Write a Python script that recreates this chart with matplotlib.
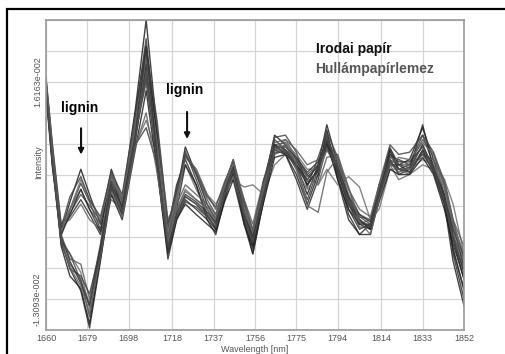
import matplotlib
matplotlib.use("Agg")
import matplotlib.pyplot as plt
from matplotlib.patches import Rectangle

plt.rcParams['font.family'] = ['Liberation Sans', 'DejaVu Sans']

# wavelength nodes [nm]
wl = [1660, 1663, 1667, 1671, 1676, 1680, 1685, 1690, 1695, 1701, 1706, 1711, 1716, 1720,
      1724, 1729, 1734, 1738, 1742, 1746, 1751, 1755, 1760, 1765, 1770, 1775, 1780, 1785,
      1789, 1794, 1799, 1804, 1809, 1813, 1818, 1822, 1827, 1833, 1838, 1843, 1847, 1852]

# spectra, intensity x 1e-3
# corrugated board (lignin peaks)
a1 = [16.4, 7.0, -4.0, 0.0, 4.4, 1.0, -3.0, 4.4, 0.3, 12.4, 24.5, 9.7, -5.0, 1.0, 7.4, 3.7, -0.3, -2.4, 2.3, 5.7, -1.0,
      -5.7, 2.3, 9.0, 7.7, 5.0, 1.0, 5.0, 10.4, 5.0, -0.3, -3.0, -3.0, 1.7, 7.3, 5.0, 5.7, 10.0, 5.7, 1.0, -5.0, -10.4]
a2 = [16.0, 6.0, -4.5, -1.0, 2.5, 0.0, -3.7, 3.0, 0.0, 11.5, 22.0, 8.4, -5.7, 0.3, 6.8, 3.0, -1.0, -3.0, 1.7, 5.0, -1.7,
      -6.4, 1.7, 8.4, 7.0, 4.4, 0.3, 4.4, 9.0, 4.4, -1.0, -3.7, -3.0, 1.0, 6.4, 4.4, 5.0, 9.0, 5.0, 0.3, -6.4, -12.0]
a3 = [15.5, 5.5, -3.5, -1.5, 1.0, -0.5, -2.5, 2.3, -0.5, 10.4, 20.0, 8.0, -4.4, 1.7, 6.4, 3.7, 0.3, -1.7, 2.3, 4.4, -0.3,
      -5.0, 2.3, 7.7, 8.0, 5.7, 2.3, 4.4, 8.4, 5.7, 0.3, -2.4, -3.7, 1.7, 6.8, 5.0, 5.0, 8.4, 6.4, 2.3, -4.4, -9.7]
a4 = [15.1, 5.0, -3.7, -2.0, 0.3, -1.7, -4.4, 1.0, -1.7, 9.0, 17.0, 7.0, -3.7, 2.3, 5.7, 2.3, -1.7, -3.7, 1.0, 3.7, -2.4,
      -4.4, 3.0, 7.0, 6.4, 3.0, -1.0, 3.0, 7.7, 3.7, -1.7, -4.4, -3.0, 0.3, 5.7, 3.7, 4.4, 7.7, 4.4, 1.0, -7.0, -13.1]
a5 = [14.5, 4.4, -3.0, -2.4, -0.3, -2.4, -3.7, 0.3, -1.0, 7.7, 11.0, 6.4, -3.0, 1.0, 5.0, 1.7, -1.0, -2.4, 1.7, 3.0, -1.0,
      -3.7, 2.3, 6.4, 7.0, 4.4, 1.7, 3.7, 7.0, 4.4, -0.3, -3.0, -2.4, 1.0, 5.0, 3.0, 3.7, 7.0, 5.0, 2.0, -3.7, -8.4]
a6 = [16.8, 7.7, -3.0, -1.0, 1.7, -1.0, -3.0, 2.0, -0.3, 10.0, 19.0, 10.0, -2.4, 0.0, 6.0, 4.4, 1.0, -1.0, 1.0, 4.0, 0.3,
      -3.0, 3.0, 8.0, 8.4, 6.0, 3.7, 2.3, 6.0, 6.4, 1.7, -2.0, -2.4, 2.3, 6.0, 5.7, 5.0, 6.4, 5.7, 3.0, -2.4, -7.7]
a7 = [15.8, 6.4, -4.4, -1.7, 1.7, -1.0, -4.0, 3.7, -1.0, 12.0, 21.0, 9.0, -6.0, -1.0, 5.0, 2.3, -2.4, -4.4, 0.3, 4.4, -3.0,
      -7.0, 0.3, 7.7, 6.4, 3.7, -0.3, 3.7, 9.7, 3.0, -2.4, -4.4, -4.4, 0.3, 7.0, 4.4, 4.4, 10.4, 4.4, -0.3, -8.0, -14.0]
a8 = [15.2, 5.3, -4.0, -1.0, 3.0, 0.3, -2.4, 3.4, 0.7, 11.0, 18.0, 8.0, -4.0, 0.3, 6.4, 4.4, 1.0, -0.3, 2.0, 3.0, 2.0,
      2.3, 1.0, 5.0, 6.4, 5.0, 3.0, 2.3, 4.4, 2.3, 3.4, 2.0, -2.4, -1.0, 4.4, 4.4, 3.7, 5.0, 4.4, 3.0, -0.3, -7.0]
a9 = [16.6, 7.4, -3.4, 0.7, 3.4, 0.3, -2.0, 4.0, 1.0, 11.7, 20.5, 11.0, -3.0, 1.4, 6.4, 4.0, 0.7, -0.7, 2.7, 5.4, 0.0,
      -4.0, 2.7, 8.7, 9.0, 6.7, 2.0, 6.0, 9.4, 6.0, 0.7, -2.7, -3.4, 2.3, 7.7, 6.4, 6.7, 9.0, 6.7, 2.7, -2.7, -9.0]
# office paper
b1 = [15.0, 5.0, -5.0, -9.0, -12.0, -17.0, -8.0, 2.0, -1.7, 8.0, 18.5, 5.0, -7.7, -2.4, 0.3, -1.0, -2.4, -3.7, 0.3, 4.0, -2.4,
      -7.0, 0.3, 7.7, 7.0, 5.0, 3.0, 5.0, 8.4, 4.0, -0.3, -2.4, -3.7, 0.3, 5.0, 5.0, 4.0, 7.0, 4.0, -0.3, -6.4, -11.7]
b2 = [15.8, 6.0, -5.7, -8.4, -10.4, -15.5, -7.0, 2.3, -1.0, 8.4, 17.8, 5.7, -6.4, -1.7, 0.7, -0.3, -1.7, -3.0, 1.0, 4.4, -1.7,
      -5.0, 1.0, 7.0, 7.0, 5.7, 3.7, 5.0, 7.7, 4.4, 0.3, -2.0, -3.0, 1.0, 5.7, 5.0, 4.6, 6.4, 4.4, 0.3, -4.4, -8.4]
b3 = [16.4, 6.4, -5.0, -7.0, -9.5, -14.4, -6.4, 3.0, 0.3, 9.7, 16.0, 6.4, -5.7, -1.0, 1.7, 0.3, -1.0, -2.4, 1.7, 5.0, -1.0,
      -4.4, 1.7, 6.4, 7.7, 6.4, 4.4, 4.4, 7.0, 5.0, 1.0, -1.7, -2.4, 1.7, 5.0, 4.4, 4.4, 5.7, 5.0, 1.7, -3.0, -7.0]
b4 = [15.4, 5.4, -6.0, -10.0, -11.7, -16.4, -7.7, 1.0, -2.4, 7.0, 15.0, 4.4, -7.0, -2.4, -0.3, -1.7, -3.0, -4.0, 0.0, 3.0, -3.0,
      -6.0, 0.0, 6.0, 6.4, 5.0, 2.3, 4.4, 8.0, 3.0, -1.0, -3.0, -3.7, 0.0, 4.4, 3.7, 3.7, 6.0, 3.7, -1.0, -5.7, -10.4]
b5 = [16.1, 6.7, -4.4, -7.7, -8.4, -13.1, -5.7, 3.7, 0.0, 10.4, 19.5, 7.0, -5.0, -0.3, 2.3, 1.0, -0.3, -1.7, 2.3, 5.7, 0.3,
      -3.7, 2.3, 7.0, 8.4, 7.0, 5.0, 5.7, 7.0, 5.7, 1.7, -1.0, -2.0, 2.3, 6.0, 5.7, 5.0, 6.0, 5.7, 2.3, -2.4, -6.0]
b6 = [14.8, 4.7, -5.4, -9.0, -10.0, -12.4, -6.4, 1.7, -1.4, 7.7, 10.0, 5.0, -6.0, -2.0, 0.0, -0.7, -2.0, -3.4, 0.7, 3.7, -2.0,
      -5.4, 0.7, 6.7, 6.7, 5.4, 3.4, 4.7, 7.4, 4.0, 0.0, -2.4, -3.4, 0.7, 5.4, 4.4, 4.0, 6.7, 4.0, 0.0, -5.0, -9.4]
b7 = [15.6, 5.7, -4.7, -8.0, -11.0, -14.0, -6.0, 2.7, -0.7, 9.0, 21.0, 6.0, -6.7, -1.4, 1.0, 0.0, -1.4, -2.7, 1.4, 4.7, -1.4,
      -4.7, 1.4, 7.4, 7.4, 6.0, 4.0, 5.4, 8.0, 4.7, 0.7, -1.7, -2.7, 1.4, 6.4, 5.4, 5.4, 7.4, 4.7, 0.7, -3.7, -7.4]
b8 = [15.9, 6.2, -5.2, -8.8, -11.4, -15.0, -7.4, 1.4, -2.0, 7.4, 12.0, 4.0, -5.4, -1.0, 1.4, 0.3, -0.7, -2.0, 1.0, 3.4, -1.4,
      -4.0, 1.7, 7.0, 7.7, 5.0, -0.5, -1.4, 4.0, 6.0, 2.0, -2.7, -4.4, 0.3, 5.0, 6.0, 5.7, 8.0, 6.4, 2.7, -3.0, -8.0]
b9 = [15.3, 5.0, -5.4, -7.0, -10.7, -13.7, -7.0, 2.0, -1.4, 8.7, 16.5, 5.4, -6.0, -2.0, 0.7, -0.3, -2.0, -3.4, 1.0, 4.4, -2.0,
      -5.4, 0.7, 7.4, 6.7, 4.7, 2.7, 4.0, 8.7, 4.7, -0.3, -3.4, -3.4, 1.0, 5.4, 4.0, 4.7, 7.7, 4.4, 0.3, -5.0, -9.0]

spectra = [a1, a2, a3, a4, a5, a6, a7, a8, a9, b1, b2, b3, b4, b5, b6, b7, b8, b9]
shades = ['#1e1e1e', '#3c3c3c', '#505050', '#2e2e2e', '#6a6a6a', '#5a5a5a', '#262626', '#707070', '#444444',
          '#2a2a2a', '#4a4a4a', '#6e6e6e', '#202020', '#5e5e5e', '#3e3e3e', '#343434', '#626262', '#484848']

xticks = [1660, 1679, 1698, 1718, 1737, 1756, 1775, 1794, 1814, 1833, 1852]
y_hi = 16.163   # 1.6163e-002
y_lo = -13.093  # -1.3093e-002
step = (y_hi - y_lo) / 7
ygrid = [y_hi + k * step for k in range(-8, 3)]

fig = plt.figure(figsize=(5.05, 3.54), dpi=100, facecolor='white')
ax = fig.add_axes([46 / 505, 1 - 330 / 354, 418 / 505, 310 / 354])

for s, c in zip(spectra, shades):
    ax.plot(wl, s, color=c, lw=1.0, alpha=0.85)

ax.set_xlim(1660, 1852)
ax.set_ylim(ygrid[0], ygrid[-1])
ax.set_xticks(xticks)
ax.set_xticklabels([str(t) for t in xticks])
ax.set_yticks(ygrid)
ylabels = [''] * len(ygrid)
ylabels[1] = '-1.3093e-002'
ylabels[8] = '1.6163e-002'
ax.set_yticklabels(ylabels, rotation=90, va='center')
ax.tick_params(length=0, labelsize=6.5, labelcolor='#555555', pad=3)
ax.grid(True, color='#d4d4d4', lw=0.9)
ax.set_axisbelow(True)
for sp in ax.spines.values():
    sp.set_color('#9a9a9a')
    sp.set_linewidth(1.2)

ax.set_xlabel('Wavelength [nm]', fontsize=6.5, color='#555555', labelpad=1)
ax.set_ylabel('Intensity', fontsize=6.5, color='#555555')
ax.yaxis.set_label_coords(-0.008, 0.54)

ax.text(0.645, 0.905, 'Irodai papír', transform=ax.transAxes, fontsize=10,
        fontweight='bold', color='#111111', va='center')
ax.text(0.645, 0.843, 'Hullámpapírlemez', transform=ax.transAxes, fontsize=10,
        fontweight='bold', color='#555555', va='center')

ax.text(1675.6, 12.7, 'lignin', fontsize=10, fontweight='bold', ha='center', va='center')
ax.text(1723.9, 15.1, 'lignin', fontsize=10, fontweight='bold', ha='center', va='center')
ax.annotate('', xy=(1676.1, 6.0), xytext=(1676.1, 10.3),
            arrowprops=dict(arrowstyle='-|>', color='#111111', lw=1.5, mutation_scale=8))
ax.annotate('', xy=(1724.8, 8.1), xytext=(1724.8, 12.5),
            arrowprops=dict(arrowstyle='-|>', color='#111111', lw=1.5, mutation_scale=8))

# outer frame
fig.patches.append(Rectangle((7 / 505, -0.05), 1.2, 1 - 9 / 354 + 0.05, transform=fig.transFigure,
                             fill=False, edgecolor='black', lw=1.6))

fig.savefig('out.png', dpi=100, facecolor='white')
